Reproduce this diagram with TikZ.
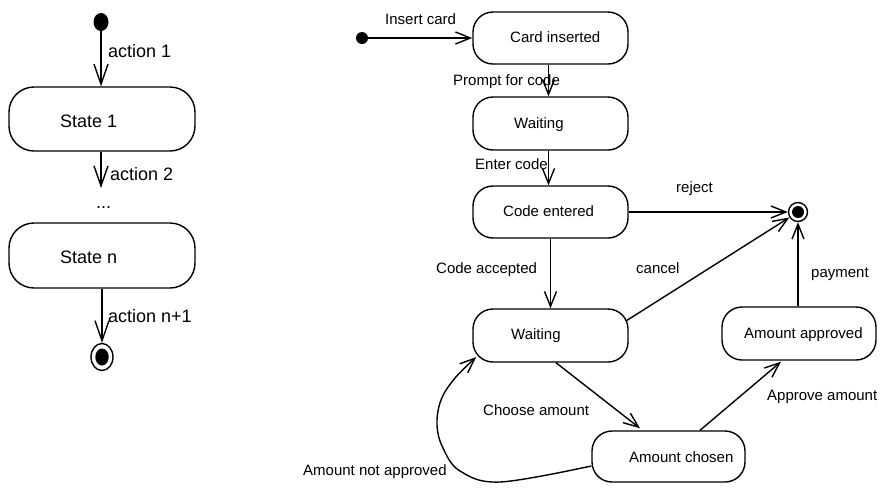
\documentclass[tikz,border=0pt]{standalone}
\usepackage{fontspec}
\setmainfont{Liberation Sans}
\usetikzlibrary{arrows.meta,calc,shapes.geometric}
\begin{document}
\begin{tikzpicture}[x=1pt,y=-1pt,
  box/.style={draw, line width=1.4pt, rectangle, inner sep=0pt},
  bigbox/.style={box, rounded corners=25pt, minimum width=186pt, minimum height=64pt},
  smallbox/.style={box, rounded corners=20pt, minimum width=155pt, minimum height=52pt},
  arrL/.style={line width=1.4pt, -{Straight Barb[length=20pt,width=14pt,line width=1.4pt]}},
  arrS/.style={line width=1.4pt, -{Straight Barb[length=15pt,width=12pt,line width=1.4pt]}},
  lblL/.style={anchor=base west, inner sep=0pt, font=\fontsize{18}{21}\selectfont},
  lblS/.style={anchor=base west, inner sep=0pt, font=\fontsize{15}{18}\selectfont},
]
\useasboundingbox (0,0) rectangle (888,491);

% ---------- left: generic diagram ----------
\node[fill, ellipse, minimum width=15pt, minimum height=18pt, inner sep=0pt] (i1) at (101,22) {};
\node[bigbox] (s1) at (102,119) {};
\node[bigbox, minimum height=65pt] (sn) at (102,255.5) {};
\node[ellipse, draw, line width=1.4pt, minimum width=22pt, minimum height=27pt, inner sep=0pt,
      path picture={\fill (path picture bounding box.center) circle[x radius=6.7pt, y radius=8.5pt];}] (f1) at (102,357) {};
\coordinate (c2) at (101,188);

\node[lblL] (ta1) at (108,57) {action 1};
\node[lblL] (ts1) at (60,127) {State 1};
\node[lblL] (ta2) at (110,180) {action 2};
\node[lblL] (tdots) at (96,208) {...};
\node[lblL] (tsn) at (60,263) {State n};
\node[lblL] (tan) at (108,322) {action n+1};

\draw[arrL] (i1.south) -- (i1.south |- s1.north);
\draw[arrL] (c2 |- s1.south) -- (c2);
\draw[arrL] (sn.south) -- (f1.north);

% ---------- right: ATM diagram ----------
\node[fill, circle, minimum size=12pt, inner sep=0pt] (i2) at (362,38) {};
\node[smallbox] (ci) at (550.5,38) {};
\node[smallbox, minimum height=53pt] (w1) at (550.5,123.5) {};
\node[smallbox] (ce) at (550.5,212) {};
\node[smallbox, minimum height=53pt] (w2) at (550.5,335.5) {};
\node[smallbox, minimum width=153pt, minimum height=51pt] (ach) at (668.5,456.5) {};
\node[smallbox, minimum width=154pt, minimum height=53pt] (aap) at (799,333.5) {};
\node[circle, draw, line width=1.4pt, minimum size=19pt, inner sep=0pt,
      path picture={\fill (path picture bounding box.center) circle[radius=6pt];}] (f2) at (798,212) {};

\node[lblS] (tci) at (510,42) {Card inserted};
\node[lblS] (tw1) at (514,128) {Waiting};
\node[lblS] (tce) at (503,216) {Code entered};
\node[lblS] (tw2) at (511,339) {Waiting};
\node[lblS] (tach) at (629,462) {Amount chosen};
\node[lblS] (taap) at (744,338) {Amount approved};

\node[lblS] (lins) at (385,24) {Insert card};
\node[lblS] (lpro) at (453,85) {Prompt for code};
\node[lblS] (lent) at (475,169) {Enter code};
\node[lblS] (lrej) at (676,192) {reject};
\node[lblS] (lacc) at (436,273) {Code accepted};
\node[lblS] (lcan) at (636,273) {cancel};
\node[lblS] (lpay) at (811,277) {payment};
\node[lblS] (lapp) at (767,400) {Approve amount};
\node[lblS] (lcho) at (483,415) {Choose amount};
\node[lblS] (lnot) at (303,475) {Amount not approved};

\draw[arrS] (i2) -- (ci.west);
\draw[arrS] ($(ci.south)+(-2,0)$) -- ($(w1.north)+(-2,0)$);
\draw[arrS] ($(w1.south)+(-2,0)$) -- ($(ce.north)+(-2,0)$);
\draw[arrS] (ce.east) -- (f2.west);
\draw[arrS] (ce.south) -- (w2.north);
\draw[arrS] ($(w2.east)+(-2,-15)$) -- (f2);
\draw[arrS] ($(w2.south)+(5.5,0)$) -- ($(ach.north)+(-28.5,-2)$);
\draw[arrS] ($(ach.north)+(31.5,0)$) -- ($(aap.south)+(-18,1)$);
\draw[arrS] (aap.north -| f2) -- (f2.south);
\draw[arrS] plot[smooth, tension=0.6] coordinates {($(ach.west)+(0,9.5)$) (500,482) (460,471) (443,448) (437,425) (441,400) (455,378) ($(w2.west)+(4,21.5)$)};
\end{tikzpicture}
\end{document}
